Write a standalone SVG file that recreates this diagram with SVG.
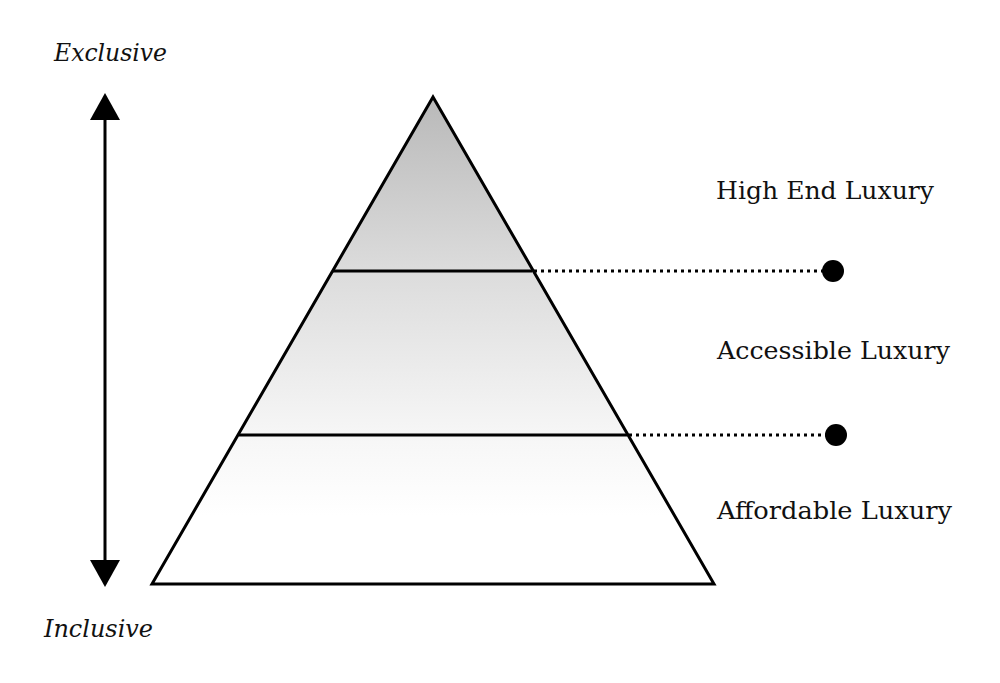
<svg xmlns="http://www.w3.org/2000/svg" width="1000" height="683" viewBox="0 0 1000 683">
<style>
.lbl{font-family:"DejaVu Serif","Liberation Serif",serif;font-size:25px;fill:#111}
.it{font-family:"DejaVu Serif","Liberation Serif",serif;font-style:italic;font-size:25px;fill:#111}
.edge{stroke:#000;stroke-width:3;fill:none}
.dot{stroke:#000;stroke-width:3;stroke-dasharray:3 4;fill:none}
</style>
<defs>
<linearGradient id="g" x1="0" y1="97" x2="0" y2="584" gradientUnits="userSpaceOnUse">
<stop offset="0" stop-color="#b9b9b9"/>
<stop offset="0.36" stop-color="#dcdcdc"/>
<stop offset="0.69" stop-color="#f6f6f6"/>
<stop offset="0.86" stop-color="#ffffff"/>
<stop offset="1" stop-color="#ffffff"/>
</linearGradient>
</defs>
<rect width="1000" height="683" fill="#fff"/>
<g id="pyramid">
<polygon points="433,97 152,584 714,584" fill="url(#g)" stroke="#000" stroke-width="3" stroke-linejoin="miter"/>
<line class="edge" x1="333" y1="271" x2="532" y2="271"/>
<line class="edge" x1="239" y1="435" x2="627" y2="435"/>
</g>
<g id="connectors">
<line class="dot" x1="534" y1="271" x2="828" y2="271"/>
<line class="dot" x1="629" y1="435" x2="830" y2="435"/>
<line class="edge" x1="105" y1="115" x2="105" y2="565"/>
<polygon points="105,93 90,120 120,120" fill="#000"/>
<polygon points="105,587 90,560 120,560" fill="#000"/>
</g>
<g id="dot-high"><circle cx="833" cy="271" r="11" fill="#000"/></g>
<g id="dot-low"><circle cx="836" cy="435" r="11" fill="#000"/></g>
<g id="label-exclusive"><text class="it" x="54" y="61" textLength="113" lengthAdjust="spacingAndGlyphs">Exclusive</text></g>
<g id="label-inclusive"><text class="it" x="44" y="637" textLength="109" lengthAdjust="spacingAndGlyphs">Inclusive</text></g>
<g id="label-high"><text class="lbl" x="716" y="199" textLength="218" lengthAdjust="spacingAndGlyphs">High End Luxury</text></g>
<g id="label-accessible"><text class="lbl" x="717" y="359" textLength="233" lengthAdjust="spacingAndGlyphs">Accessible Luxury</text></g>
<g id="label-affordable"><text class="lbl" x="717" y="519" textLength="235" lengthAdjust="spacingAndGlyphs">Affordable Luxury</text></g>
</svg>
